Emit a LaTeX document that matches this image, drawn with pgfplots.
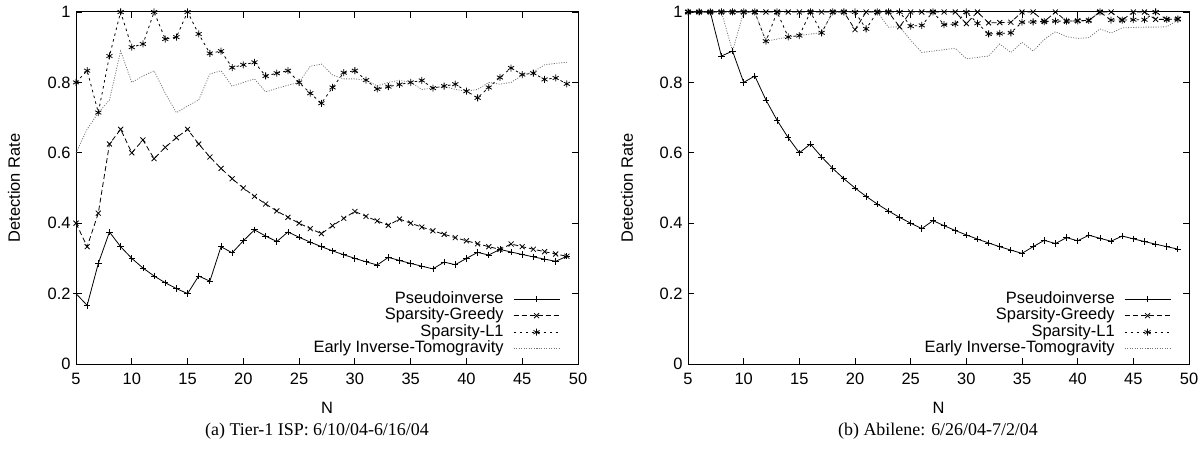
\documentclass[border=0pt]{standalone}
\usepackage{fontspec}
\setmainfont{Liberation Serif}
\setsansfont{Liberation Sans}
\usepackage{pgfplots}
\pgfplotsset{compat=1.18}
\pgfplotsset{
  gp/.style={
    scale only axis, width=502bp, height=352bp,
    xmin=5, xmax=50, ymin=0, ymax=1,
    xtick={5,10,...,50}, ytick={0,0.2,0.4,0.6,0.8,1},
    tick align=inside, major tick length=6bp,
    axis line style={line width=1bp},
    every tick/.style={black, line width=0.8bp},
    tick label style={font=\fontsize{16.5}{18}\sffamily},
    xticklabel style={yshift=-6bp},
    yticklabel style={xshift=-2bp},
    /pgf/number format/assume math mode=true,
    label style={font=\fontsize{16.5}{18}\sffamily},
    xlabel={N}, ylabel={Detection Rate},
    xlabel style={at={(axis description cs:0.5,-0.125)}, anchor=center},
    clip=false,
    legend cell align=right, legend plot pos=right,
    legend style={draw=none, fill=none, inner sep=0pt, outer sep=0pt,
      at={(axis description cs:0.964,0.02)}, anchor=south east,
      font=\fontsize{16.5}{18}\sffamily, row sep=0pt, column sep=9bp,
      nodes={inner sep=0.5bp, text height=12bp, text depth=3.5bp}},
    legend image code/.code={\draw[mark repeat=2,mark phase=2,##1] plot coordinates {(0bp,0bp) (23bp,0bp) (46bp,0bp)};},
  },
  sP/.style={black, line width=0.8bp, solid, mark=+, mark size=3.2bp, mark options={solid}},
  sG/.style={black, line width=0.8bp, dash pattern=on 5bp off 3bp, mark=x, mark size=3.5bp, mark options={solid}},
  sL/.style={black, line width=0.8bp, dash pattern=on 2.5bp off 3.5bp, mark=asterisk, mark size=3.5bp, mark options={solid}},
  sE/.style={black!55, line width=0.8bp, dash pattern=on 1bp off 1.5bp, no marks},
}
\begin{document}
\begin{tikzpicture}
\useasboundingbox (0,0) rectangle (1202bp,454bp);
\begin{axis}[gp, at={(76bp,90bp)}, anchor=south west,
  ylabel style={at={(axis description cs:-0.1235,0.5)}, anchor=center}]
\addplot[sP] coordinates {(5,0.2) (6,0.1667) (7,0.2857) (8,0.375) (9,0.3333) (10,0.3) (11,0.2727) (12,0.25) (13,0.2308) (14,0.2143) (15,0.2) (16,0.25) (17,0.2353) (18,0.3333) (19,0.3158) (20,0.35) (21,0.381) (22,0.3636) (23,0.3478) (24,0.375) (25,0.36) (26,0.3462) (27,0.3333) (28,0.3214) (29,0.3103) (30,0.3) (31,0.2903) (32,0.2813) (33,0.303) (34,0.2941) (35,0.2857) (36,0.2778) (37,0.2703) (38,0.2895) (39,0.2821) (40,0.3) (41,0.3171) (42,0.3095) (43,0.3256) (44,0.3182) (45,0.3111) (46,0.3043) (47,0.2979) (48,0.2917) (49,0.3061)};
\addlegendentry{Pseudoinverse}
\addplot[sG] coordinates {(5,0.4) (6,0.3333) (7,0.4286) (8,0.625) (9,0.6667) (10,0.6) (11,0.6364) (12,0.5833) (13,0.6154) (14,0.6429) (15,0.6667) (16,0.625) (17,0.5882) (18,0.5556) (19,0.5263) (20,0.5) (21,0.4762) (22,0.4545) (23,0.4348) (24,0.4167) (25,0.4) (26,0.3846) (27,0.3704) (28,0.3929) (29,0.4138) (30,0.4333) (31,0.4194) (32,0.4063) (33,0.3939) (34,0.4118) (35,0.4) (36,0.3889) (37,0.3784) (38,0.3684) (39,0.359) (40,0.35) (41,0.3415) (42,0.3333) (43,0.3256) (44,0.3409) (45,0.3333) (46,0.3261) (47,0.3191) (48,0.3125) (49,0.3061)};
\addlegendentry{Sparsity-Greedy}
\addplot[sL] coordinates {(5,0.8) (6,0.8333) (7,0.7143) (8,0.875) (9,1) (10,0.9) (11,0.9091) (12,1) (13,0.9231) (14,0.9286) (15,1) (16,0.9375) (17,0.8824) (18,0.8889) (19,0.8421) (20,0.85) (21,0.8571) (22,0.8182) (23,0.8261) (24,0.8333) (25,0.8) (26,0.7692) (27,0.7407) (28,0.7857) (29,0.8276) (30,0.8333) (31,0.8065) (32,0.7813) (33,0.7879) (34,0.7941) (35,0.8) (36,0.8056) (37,0.7838) (38,0.7895) (39,0.7949) (40,0.775) (41,0.7561) (42,0.7857) (43,0.814) (44,0.8409) (45,0.8222) (46,0.8261) (47,0.8085) (48,0.8125) (49,0.7959)};
\addlegendentry{Sparsity-L1}
\addplot[sE] coordinates {(5,0.6) (6,0.667) (7,0.714) (8,0.75) (9,0.889) (10,0.8) (11,0.818) (12,0.833) (13,0.769) (14,0.714) (15,0.733) (16,0.75) (17,0.824) (18,0.833) (19,0.789) (20,0.8) (21,0.81) (22,0.773) (23,0.783) (24,0.792) (25,0.8) (26,0.846) (27,0.852) (28,0.821) (29,0.81) (30,0.81) (31,0.806) (32,0.79) (33,0.8) (34,0.806) (35,0.8) (36,0.78) (37,0.784) (38,0.789) (39,0.78) (40,0.775) (41,0.78) (42,0.8) (43,0.795) (44,0.8) (45,0.82) (46,0.83) (47,0.85) (48,0.854) (49,0.857)};
\addlegendentry{Early Inverse-Tomogravity}
\end{axis}
\begin{axis}[gp, at={(688bp,90bp)}, anchor=south west, width=501bp,
  ylabel style={at={(axis description cs:-0.1218,0.5)}, anchor=center}]
\addplot[sP] coordinates {(5,1) (6,1) (7,1) (8,0.875) (9,0.8889) (10,0.8) (11,0.8182) (12,0.75) (13,0.6923) (14,0.6429) (15,0.6) (16,0.625) (17,0.5882) (18,0.5556) (19,0.5263) (20,0.5) (21,0.4762) (22,0.4545) (23,0.4348) (24,0.4167) (25,0.4) (26,0.3846) (27,0.4074) (28,0.3929) (29,0.3793) (30,0.3667) (31,0.3548) (32,0.3438) (33,0.3333) (34,0.3235) (35,0.3143) (36,0.3333) (37,0.3514) (38,0.3421) (39,0.359) (40,0.35) (41,0.3659) (42,0.3571) (43,0.3488) (44,0.3636) (45,0.3556) (46,0.3478) (47,0.3404) (48,0.3333) (49,0.3265)};
\addlegendentry{Pseudoinverse}
\addplot[sG] coordinates {(5,1) (6,1) (7,1) (8,1) (9,1) (10,1) (11,1) (12,1) (13,1) (14,1) (15,1) (16,1) (17,1) (18,1) (19,1) (20,0.95) (21,1) (22,1) (23,1) (24,0.958) (25,1) (26,1) (27,1) (28,1) (29,1) (30,0.967) (31,1) (32,0.969) (33,0.97) (34,0.971) (35,1) (36,1) (37,0.973) (38,1) (39,0.974) (40,0.975) (41,0.976) (42,1) (43,1) (44,0.977) (45,1) (46,1) (47,0.979) (48,0.979) (49,0.98)};
\addlegendentry{Sparsity-Greedy}
\addplot[sL] coordinates {(5,1) (6,1) (7,1) (8,1) (9,1) (10,1) (11,1) (12,0.917) (13,1) (14,0.929) (15,0.933) (16,1) (17,0.941) (18,1) (19,1) (20,1) (21,0.952) (22,1) (23,1) (24,1) (25,0.96) (26,0.962) (27,1) (28,0.964) (29,0.966) (30,1) (31,0.968) (32,0.9375) (33,0.939) (34,0.941) (35,0.971) (36,0.972) (37,0.973) (38,0.974) (39,0.974) (40,0.975) (41,0.976) (42,1) (43,0.977) (44,0.977) (45,0.978) (46,0.978) (47,1) (48,0.979) (49,0.98)};
\addlegendentry{Sparsity-L1}
\addplot[sE] coordinates {(5,1) (6,1) (7,1) (8,1) (9,0.889) (10,1) (11,1) (12,0.917) (13,0.923) (14,0.929) (15,0.933) (16,0.9375) (17,0.941) (18,1) (19,1) (20,1) (21,1) (22,1) (23,0.957) (24,0.958) (25,0.92) (26,0.885) (27,0.889) (28,0.893) (29,0.897) (30,0.867) (31,0.871) (32,0.875) (33,0.909) (34,0.885) (35,0.914) (36,0.889) (37,0.922) (38,0.944) (39,0.93) (40,0.925) (41,0.927) (42,0.952) (43,0.94) (44,0.955) (45,0.956) (46,0.957) (47,0.957) (48,0.958) (49,0.977)};
\addlegendentry{Early Inverse-Tomogravity}
\end{axis}
\node[font=\fontsize{18}{20}\selectfont] at (317bp,23bp) {(a) Tier-1 ISP: 6/10/04-6/16/04};
\node[font=\fontsize{18}{20}\selectfont] at (938bp,23bp) {(b) Abilene: 6/26/04-7/2/04};
\end{tikzpicture}
\end{document}
